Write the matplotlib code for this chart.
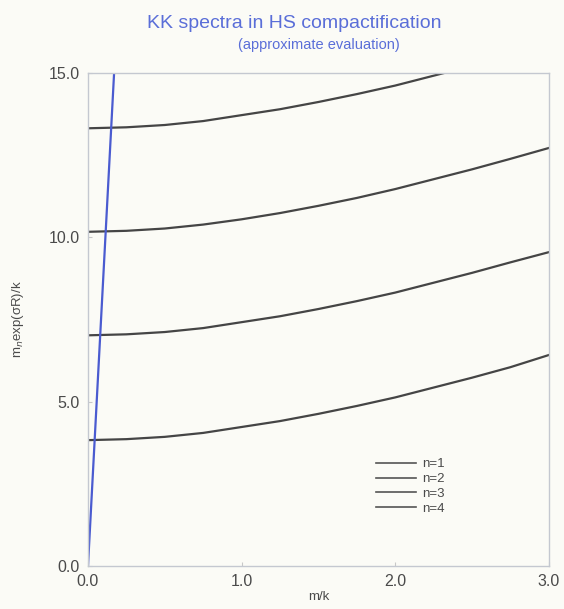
import matplotlib
matplotlib.use("Agg")
import matplotlib.pyplot as plt

# Data
x_vals = [0.0, 0.25, 0.5, 0.75, 1.0, 1.25, 1.5, 1.75, 2.0, 2.25, 2.5, 2.75, 3.0]
n1 = [3.83, 3.86, 3.93, 4.05, 4.23, 4.41, 4.63, 4.87, 5.13, 5.43, 5.73, 6.05, 6.42]
n2 = [7.02, 7.05, 7.12, 7.24, 7.42, 7.60, 7.82, 8.06, 8.32, 8.62, 8.92, 9.24, 9.55]
n3 = [10.17, 10.20, 10.27, 10.39, 10.55, 10.74, 10.96, 11.20, 11.47, 11.77, 12.07, 12.39, 12.72]
n4 = [13.32, 13.35, 13.42, 13.54, 13.72, 13.90, 14.12, 14.36, 14.62, 14.92, 15.22, 15.54, 15.87]
series_labels = ["n=1", "n=2", "n=3", "n=4"]
blue_x = [0.0, 0.17]
blue_y = [0.0, 15.0]
xticks = [0.0, 1.0, 2.0, 3.0]
yticks = [0.0, 5.0, 10.0, 15.0]

plt.rcParams['font.family'] = ['Liberation Sans', 'DejaVu Sans']

bg = '#fbfbf6'
fig = plt.figure(figsize=(5.64, 6.09), dpi=100, facecolor=bg)
ax = fig.add_axes([0.156, 0.0706, 0.817, 0.8094], facecolor=bg)

for ys, lab in zip([n1, n2, n3, n4], series_labels):
    ax.plot(x_vals, ys, color='#454545', lw=1.6, label=lab)
ax.plot(blue_x, blue_y, color='#4a5bd0', lw=1.6)

ax.set_xlim(0, 3)
ax.set_ylim(0, 15)
ax.set_xticks(xticks)
ax.set_yticks(yticks)
ax.set_xticklabels([f"{v:.1f}" for v in xticks])
ax.set_yticklabels([f"{v:.1f}" for v in yticks])
ax.tick_params(direction='in', length=3, color='#c8c8c8', labelsize=11.5,
               labelcolor='#4a4a4a', pad=6)
for sp in ax.spines.values():
    sp.set_color('#c4c8d0')
    sp.set_linewidth(1.0)

ax.set_xlabel("m/k", fontsize=9.5, color='#4a4a4a', labelpad=1)
ax.set_ylabel("m$_n$exp(σR)/k", fontsize=9.5, color='#4a4a4a', labelpad=16)

leg = ax.legend(loc='lower right', bbox_to_anchor=(0.80, 0.08), frameon=False,
                fontsize=9.5, handlelength=3.0, labelspacing=0.19, handletextpad=0.5)
for t in leg.get_texts():
    t.set_color('#4a4a4a')
for h in leg.get_lines():
    h.set_linewidth(1.2)
    h.set_color('#555555')

fig.text(0.522, 0.962, "KK spectra in HS compactification", ha='center', va='center',
         fontsize=14, color='#5a6ed8')
fig.text(0.565, 0.926, "(approximate evaluation)", ha='center', va='center',
         fontsize=10.5, color='#5a6ed8')

fig.savefig("out.png", dpi=100, facecolor=bg)
